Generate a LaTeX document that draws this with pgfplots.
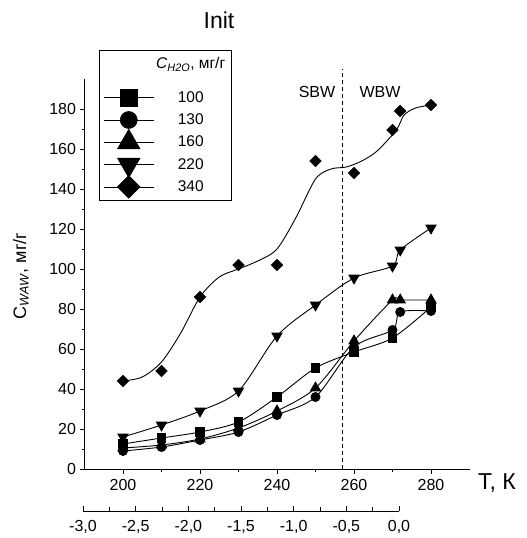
\documentclass[border=0pt]{standalone}
\usepackage{pgfplots}
\pgfplotsset{compat=1.18}
\usepackage{fontspec}
\setmainfont{Liberation Sans}

\pgfplotstableread{
x y
200 12.5
210 15.5
220 18.5
230 23.5
240 36
250 50.5
260 58.5
270 65.5
280 81
}\tabA
\pgfplotstableread{
x y
200 9
210 11
220 14.5
230 18.5
240 27
250 36
260 61
270 69.5
272 78.5
280 79
}\tabB
\pgfplotstableread{
x y
200 10.5
210 12
220 15
230 20.5
240 29
250 40.5
260 64
270 84.5
272 84.5
280 84.5
}\tabC
\pgfplotstableread{
x y
200 16
210 22
220 29
230 39
240 66.5
250 82
260 95.5
270 101.5
272 109.5
280 120.5
}\tabD
\pgfplotstableread{
x y
200 44
210 49
220 86
230 102
240 102
250 154
260 148
270 169.5
272 179
280 182
}\tabE
\pgfplotstableread{
x y
200 44
205 46
210 53.5
215 68
220 86
225 96
230 100
235 104
240 110
245 126
250 145
254 150
258 151
262 154
266 159
271 169.5
273 177
276 180.5
280 182
}\tabEfit

\begin{document}
\begin{tikzpicture}[x=1pt,y=1pt]
\useasboundingbox (0,0) rectangle (527,538);
\begin{axis}[
  at={(84.5pt,69pt)}, anchor=south west,
  scale only axis, width=385pt, height=390pt,
  xmin=190, xmax=290, ymin=0, ymax=195,
  axis x line=bottom, axis y line=left,
  axis line style={-, line width=0.8pt},
  xtick={200,220,240,260,280}, ytick={0,20,...,180},
  minor x tick num=1, minor y tick num=1,
  tick align=outside,
  major tick length=5pt, minor tick length=3pt,
  every tick/.style={black, line width=0.8pt},
  /pgf/number format/assume math mode=true,
  tick label style={font=\fontsize{16}{19}\selectfont},
  xticklabel style={yshift=-2pt},
  clip=false,
  legend style={at={(0.0377,1.0744)}, anchor=north west, draw=black, line width=0.6pt,
    font=\fontsize{15.5}{18}\selectfont, cells={anchor=center}, row sep=6pt,
    inner xsep=4pt, inner ysep=5pt, column sep=0pt},
  legend image code/.code={
    \draw[#1, mark=none, line width=0.9pt] (0pt,0pt) -- (50pt,0pt);
    \path[#1, draw=none, overlay] plot coordinates {(25pt,0pt)};
    \path[draw=none, fill=none] (0pt,-6pt) rectangle (50pt,6pt);
  },
]
\addlegendimage{empty legend}
\addlegendentry[text depth=13pt]{\textit{C}\textsubscript{\textit{H2O}}, мг/г}
\addlegendimage{black, mark=square*, mark size=8.5pt}
\addlegendentry{100}
\addlegendimage{black, mark=*, mark size=8.5pt}
\addlegendentry{130}
\addlegendimage{black, mark=triangle*, mark size=13pt}
\addlegendentry{160}
\addlegendimage{black, mark=triangle*, mark size=13pt, mark options={rotate=180}}
\addlegendentry{220}
\addlegendimage{black, mark=square*, mark size=8pt, mark options={rotate=45}}
\addlegendentry{340}

\draw[black, line width=0.7pt, dash pattern=on 4pt off 3pt] (axis cs:257,0) -- (axis cs:257,200);

\addplot[black, line width=0.9pt, smooth, mark=square*, mark size=4.3pt, mark options={solid}, forget plot] table {\tabA};
\addplot[black, line width=0.9pt, smooth, mark=*, mark size=4.5pt, mark options={solid}, forget plot] table {\tabB};
\addplot[black, line width=0.9pt, smooth, mark=triangle*, mark size=5.8pt, mark options={solid}, forget plot] table {\tabC};
\addplot[black, line width=0.9pt, smooth, mark=triangle*, mark size=5.8pt, mark options={solid, rotate=180}, forget plot] table {\tabD};
\addplot[black, line width=0.9pt, smooth, forget plot] table {\tabEfit};
\addplot[black, only marks, mark=square*, mark size=4.2pt, mark options={solid, rotate=45}, forget plot] table {\tabE};
\end{axis}

\begin{axis}[
  at={(83pt,27pt)}, anchor=south west,
  scale only axis, width=316pt, height=10pt,
  xmin=-3, xmax=0, ymin=0, ymax=1,
  axis x line=bottom, axis y line=none,
  axis line style={-, line width=0.8pt},
  xtick={-3,-2.5,-2,-1.5,-1,-0.5,0},
  minor x tick num=1,
  tick align=inside,
  major tick length=5pt, minor tick length=4pt,
  every tick/.style={black, line width=0.8pt},
  /pgf/number format/assume math mode=true,
  /pgf/number format/fixed, /pgf/number format/fixed zerofill,
  /pgf/number format/precision=1, /pgf/number format/use comma,
  tick label style={font=\fontsize{16}{19}\selectfont},
  xticklabel style={yshift=-6pt},
]
\end{axis}

\node[font=\fontsize{23}{27}\selectfont] at (219,518) {Init};
\node[font=\fontsize{23}{27}\selectfont] at (497,55) {T, К};
\node[font=\fontsize{18}{22}\selectfont, rotate=90, anchor=base] at (26,262) {C\textsubscript{\textit{WAW}}, мг/г};
\node[font=\fontsize{16}{19}\selectfont] at (317,446) {SBW};
\node[font=\fontsize{16}{19}\selectfont] at (380,446) {WBW};
\end{tikzpicture}
\end{document}
